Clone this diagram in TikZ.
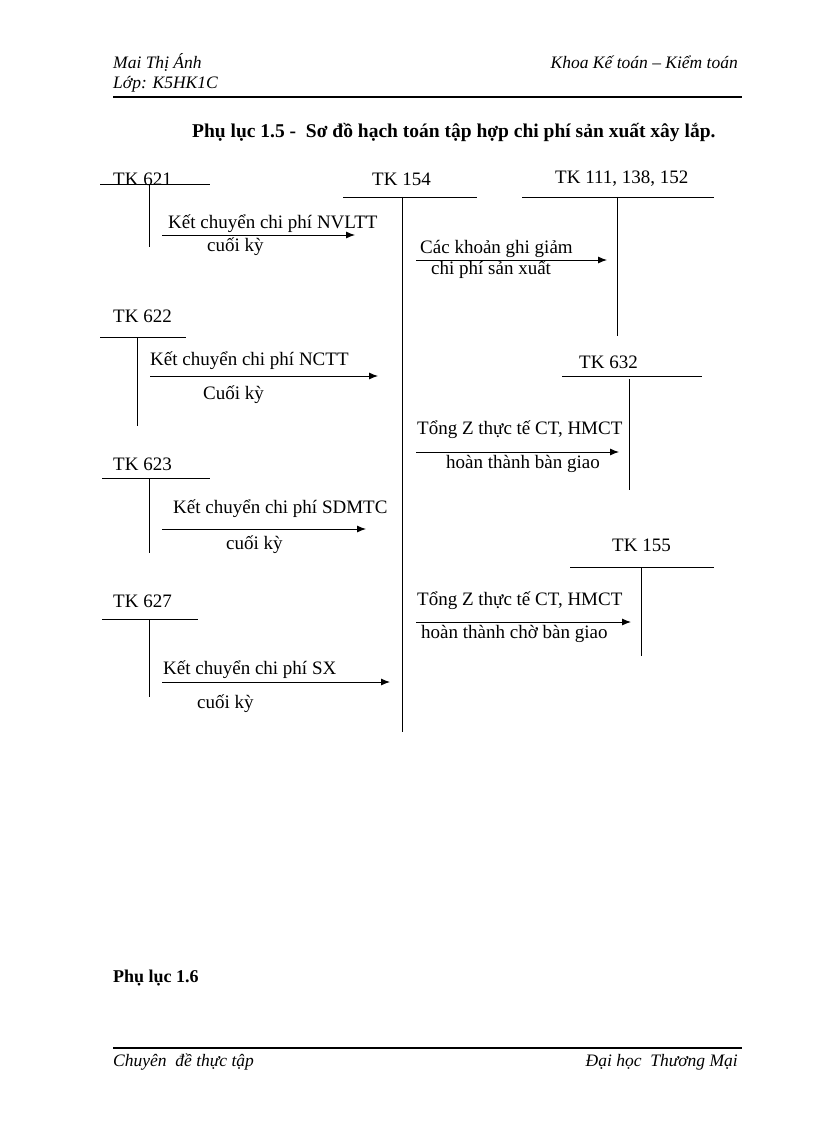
\documentclass[tikz,border=0pt]{standalone}
\usepackage{fontspec}
\setmainfont{Liberation Serif}
\usetikzlibrary{arrows.meta}
\begin{document}
\begin{tikzpicture}[x=1pt,y=-1pt,
  t/.style={anchor=west,inner sep=0pt,font=\fontsize{19}{19}\selectfont},
  h/.style={inner sep=0pt,font=\fontsize{17.5}{17.5}\selectfont\itshape},
  ln/.style={line width=0.8pt},
  arr/.style={line width=0.9pt,-{Latex[length=9pt,width=7pt]}}]
\useasboundingbox (0,0) rectangle (816,1123);
% header
\node[h,anchor=west] (h1) at (113,62) {Mai Thị Ánh};
\node[h,anchor=west] (h2) at (113,84) {Lớp: K5HK1C};
\node[h,anchor=east] (h3) at (738,62) {Khoa Kế toán – Kiểm toán};
\draw[line width=1.6pt] (113,97) -- (742,97);
\node[t,font=\fontsize{19.5}{19.5}\selectfont\bfseries] (title) at (192,133) {Phụ lục 1.5 -\ \ Sơ đồ hạch toán tập hợp chi phí sản xuất xây lắp.};
% TK 621
\node[t] (k621) at (113,179) {TK 621};
\draw[ln] (100,184) -- (210,184); \draw[ln] (149,184) -- (149,247);
\coordinate (a1s) at (162,235); \coordinate (a1e) at (355,235);
\draw[arr] (a1s) -- (a1e);
\node[t] (l1a) at (168,224) {Kết chuyển chi phí NVLTT};
\node[t] (l1b) at (207,247) {cuối kỳ};
% TK 154
\node[t] (k154) at (372,179) {TK 154};
\draw[ln] (343,197) -- (477,197); \draw[ln] (402,197) -- (402,732);
% TK 111
\node[t] (k111) at (555,179) {TK 111, 138, 152};
\draw[ln] (522,197) -- (714,197); \draw[ln] (617,197) -- (617,336);
\coordinate (a2s) at (416,260); \coordinate (a2e) at (607,260);
\draw[arr] (a2s) -- (a2e);
\node[t] (l2a) at (420,249) {Các khoản ghi giảm};
\node[t] (l2b) at (431,270) {chi phí sản xuất};
% TK 622
\node[t] (k622) at (113,316) {TK 622};
\draw[ln] (100,337) -- (186,337); \draw[ln] (137,337) -- (137,426);
\coordinate (a3s) at (150,376); \coordinate (a3e) at (378,376);
\draw[arr] (a3s) -- (a3e);
\node[t] (l3a) at (150,361) {Kết chuyển chi phí NCTT};
\node[t] (l3b) at (203,395) {Cuối kỳ};
% TK 632
\node[t] (k632) at (579,362) {TK 632};
\draw[ln] (562,376) -- (702,376); \draw[ln] (629,379) -- (629,490);
\coordinate (a4s) at (416,452); \coordinate (a4e) at (619,452);
\draw[arr] (a4s) -- (a4e);
\node[t] (l4a) at (417,430) {Tổng Z thực tế CT, HMCT};
\node[t] (l4b) at (446,464) {hoàn thành bàn giao};
% TK 623
\node[t] (k623) at (113,464) {TK 623};
\draw[ln] (102,478) -- (210,478); \draw[ln] (149,478) -- (149,553);
\coordinate (a5s) at (162,529); \coordinate (a5e) at (366,529);
\draw[arr] (a5s) -- (a5e);
\node[t] (l5a) at (173,509) {Kết chuyển chi phí SDMTC};
\node[t] (l5b) at (226,545) {cuối kỳ};
% TK 155
\node[t] (k155) at (612,545) {TK 155};
\draw[ln] (570,567) -- (714,567); \draw[ln] (641,567) -- (641,656);
\coordinate (a6s) at (416,622); \coordinate (a6e) at (631,622);
\draw[arr] (a6s) -- (a6e);
\node[t] (l6a) at (417,601) {Tổng Z thực tế CT, HMCT};
\node[t] (l6b) at (421,634) {hoàn thành chờ bàn giao};
% TK 627
\node[t] (k627) at (113,601) {TK 627};
\draw[ln] (102,619) -- (198,619); \draw[ln] (149,619) -- (149,697);
\coordinate (a7s) at (162,682); \coordinate (a7e) at (390,682);
\draw[arr] (a7s) -- (a7e);
\node[t] (l7a) at (163,670) {Kết chuyển chi phí SX};
\node[t] (l7b) at (197,704) {cuối kỳ};
% bottom
\node[t,font=\fontsize{18}{18}\selectfont\bfseries] (p16) at (113,978) {Phụ lục 1.6};
\draw[line width=1.6pt] (113,1048) -- (742,1048);
\node[h,anchor=west] (f1) at (113,1062) {Chuyên\ \ đề thực tập};
\node[h,anchor=east] (f2) at (738,1062) {Đại học\ \ Thương Mại};
\end{tikzpicture}
\end{document}
